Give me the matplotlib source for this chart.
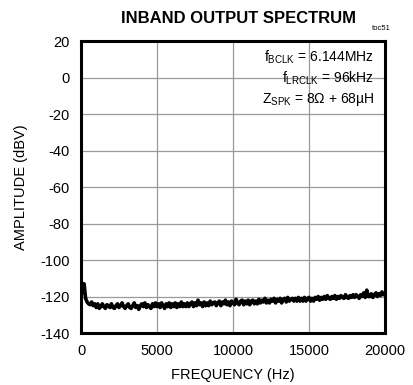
#!/usr/bin/env python3
"""Inband output spectrum (toc51) recreation."""
import numpy as np
import matplotlib
matplotlib.use("Agg")
import matplotlib.pyplot as plt

plt.rcParams["font.family"] = ["Liberation Sans", "DejaVu Sans"]
plt.rcParams["axes.unicode_minus"] = False

# amplitude, one value every 100 Hz from 0 to 20000 Hz
freq_step = 100
amplitude = [
    -111, -118, -113, -121, -123, -124, -124.5, -123, -125, -124,
    -126, -124, -126.5, -125.5, -124, -125.5, -126.5, -124.5, -125, -126,
    -124, -126, -126.5, -125, -124, -126, -125, -123.5, -125.5, -126.5,
    -125, -124, -126, -126.5, -125, -123.5, -126, -125, -127, -125,
    -124, -125.5, -123.5, -126, -124.5, -125.5, -126.5, -124, -125.5, -123.5,
    -125.5, -124, -126, -123.5, -125, -126.5, -124, -125.5, -123.5, -126,
    -124, -125.5, -123.5, -126, -124, -125.5, -123, -125.5, -124, -125.5,
    -123.5, -125.5, -124, -123, -125.5, -123.5, -125, -122, -124.5, -123.5,
    -125.5, -123, -125, -123.5, -125, -122.5, -124.5, -123.5, -123, -125,
    -123.5, -122.5, -125, -123, -124, -122, -124.5, -123, -125, -122.5,
    -123.5, -124.5, -121.5, -123.5, -124.5, -122.5, -122, -124.5, -122.5, -124,
    -122, -124.5, -122.5, -122, -124, -122.5, -124, -121.5, -123.5, -122,
    -123, -121, -123.5, -122, -123.5, -121.5, -122.5, -121, -123.5, -121.5,
    -122.5, -121, -123.5, -121.5, -121, -123, -120.5, -122.5, -121.5, -121,
    -122.5, -121, -122.5, -120.5, -122.5, -121, -122.5, -120.5, -122.5, -121,
    -120.5, -122.5, -121, -122.5, -120.5, -121.5, -120, -122, -120.5, -121.5,
    -120, -121.5, -119.5, -121, -121.5, -120, -121, -119.5, -121.5, -120,
    -121, -119.5, -120.5, -121, -119, -120.5, -121, -119.5, -120.5, -119,
    -120.5, -119, -120, -121, -119, -120, -118, -120.5, -116.5, -120,
    -120, -118.5, -120.5, -119, -118, -120, -118.5, -119.5, -117.5, -119,
    -118.5,
]
freq = np.arange(len(amplitude)) * freq_step

x_ticks = [0, 5000, 10000, 15000, 20000]
y_ticks = [20, 0, -20, -40, -60, -80, -100, -120, -140]

conditions = [
    r"f$_{\mathregular{BCLK}}$ = 6.144MHz",
    r"f$_{\mathregular{LRCLK}}$ = 96kHz",
    r"Z$_{\mathregular{SPK}}$ = 8Ω + 68µH",
]


def main():
    fig = plt.figure(figsize=(4.14, 3.85), dpi=100)
    ax = fig.add_axes([0.1957, 0.135, 0.7343, 0.7585])

    ax.plot(freq, amplitude, color="black", lw=2.6, solid_joinstyle="round")

    ax.set_xlim(0, 20000)
    ax.set_ylim(-140, 20)
    ax.set_xticks(x_ticks)
    ax.set_yticks(y_ticks)
    ax.tick_params(length=0, labelsize=10.5, pad=8)
    ax.grid(True, color="#9a9a9a", lw=0.9)
    for sp in ax.spines.values():
        sp.set_linewidth(2.2)

    ax.set_xlabel("FREQUENCY (Hz)", fontsize=10.5, labelpad=7)
    ax.set_ylabel("AMPLITUDE (dBV)", fontsize=10.5, labelpad=9)
    fig.text(0.575, 0.953, "INBAND OUTPUT SPECTRUM", ha="center", va="center",
             fontsize=12, fontweight="bold")
    fig.text(0.943, 0.925, "toc51", ha="right", va="center", fontsize=5.5)

    for i, line in enumerate(conditions):
        ax.text(0.965, 0.945 - i * 0.072, line, transform=ax.transAxes,
                ha="right", va="center", fontsize=10)

    fig.savefig("out.png", dpi=100, facecolor="white")
    plt.close(fig)


if __name__ == "__main__":
    main()
